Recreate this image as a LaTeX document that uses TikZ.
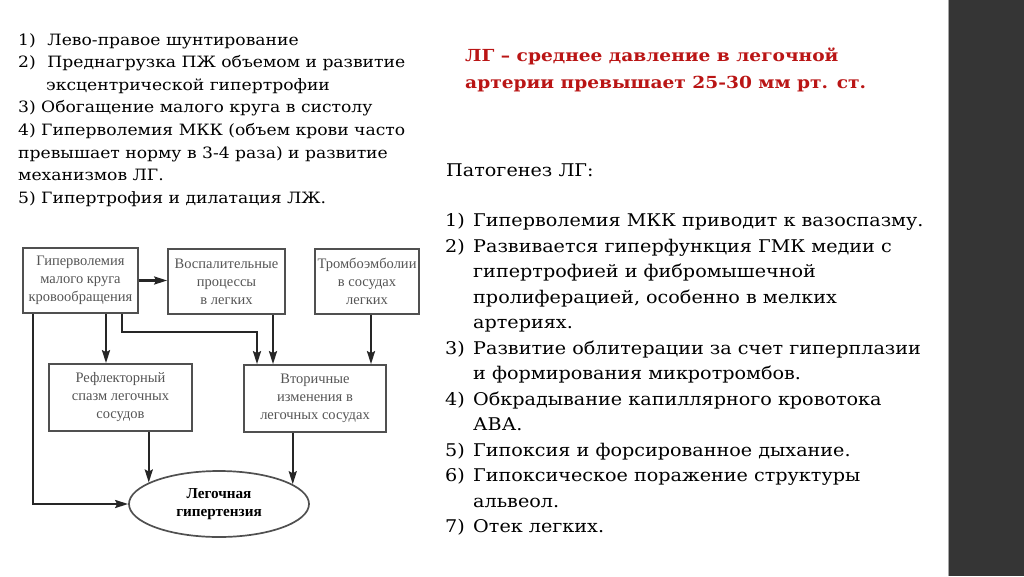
\documentclass[tikz,border=0pt]{standalone}
\usepackage{fontspec}
\setmainfont{DejaVu Serif}
\newfontfamily\leftfont[FakeStretch=1.1]{DejaVu Serif}
\newfontfamily\rightfont[FakeStretch=1.095]{DejaVu Serif}
\newfontfamily\redfont[FakeStretch=1.12]{DejaVu Serif}
\newfontfamily\diagfont{Liberation Serif}
\usetikzlibrary{arrows.meta,shapes.geometric}
\definecolor{band}{HTML}{353535}
\definecolor{redtxt}{HTML}{BA1515}
\definecolor{boxgray}{HTML}{505050}
\definecolor{diagtext}{HTML}{555555}
\begin{document}
\begin{tikzpicture}[x=1pt,y=-1pt,
  lefttxt/.style={anchor=base west,inner sep=0,font=\leftfont\fontsize{15.6}{18}\selectfont},
  righttxt/.style={anchor=base west,inner sep=0,font=\rightfont\fontsize{17.5}{20}\selectfont},
  redhead/.style={anchor=base west,inner sep=0,text=redtxt,font=\redfont\bfseries\fontsize{16.6}{20}\selectfont},
  dbox/.style={draw=boxgray,line width=1.7pt,align=center,inner sep=0,text=diagtext,
     font=\diagfont\fontsize{14.5}{18}\selectfont},
  ell/.style={draw=boxgray,line width=1.7pt,ellipse,inner sep=0,align=center,
     minimum width=180pt,minimum height=66pt,font=\diagfont\bfseries\fontsize{15.2}{18}\selectfont},
  arr/.style={draw=black!85,line width=2.2pt,-{Stealth[length=13pt,width=8pt,inset=2pt]}}]
\useasboundingbox (0,0) rectangle (1024,576);
\fill[white] (0,0) rectangle (1024,576);
\fill[band] (948,0) rectangle (1024,576);
\draw[black!35,line width=0.8pt] (948,0) -- (948,576);

% left text
\node[lefttxt] (l1) at (18,45) {1)\hspace{0.75em}Лево-правое шунтирование};
\node[lefttxt] (l2) at (18,67.6) {2)\hspace{0.75em}Преднагрузка ПЖ объемом и развитие};
\node[lefttxt] (l3) at (46,90.2) {эксцентрической гипертрофии};
\node[lefttxt] (l4) at (18,112.8) {3) Обогащение малого круга в систолу};
\node[lefttxt] (l5) at (18,135.4) {4) Гиперволемия МКК (объем крови часто};
\node[lefttxt] (l6) at (18,158) {превышает норму в 3-4 раза) и развитие};
\node[lefttxt] (l7) at (18,180.6) {механизмов ЛГ.};
\node[lefttxt] (l8) at (18,203.2) {5) Гипертрофия и дилатация ЛЖ.};

% red heading
\node[redhead] (h1) at (465,61.7) {ЛГ – среднее давление в легочной};
\node[redhead] (h2) at (465,88) {артерии превышает 25-30 мм рт. ст.};

% pathogenesis
\node[righttxt] (p0) at (446,176.7) {Патогенез ЛГ:};
\foreach \n/\t [count=\i from 0] in {
  1)/Гиперволемия МКК приводит к вазоспазму.,
  2)/Развивается гиперфункция ГМК медии с,
  /гипертрофией и фибромышечной,
  /{пролиферацией, особенно в мелких},
  /артериях.,
  3)/Развитие облитерации за счет гиперплазии,
  /и формирования микротромбов.,
  4)/Обкрадывание капиллярного кровотока,
  /АВА.,
  5)/Гипоксия и форсированное дыхание.,
  6)/Гипоксическое поражение структуры,
  /альвеол.,
  7)/Отек легких.}{
  \node[righttxt] (n\i) at (445,226.7+25.5*\i) {\n};
  \node[righttxt] (t\i) at (473,226.7+25.5*\i) {\t};
}

% diagram
\node[dbox,minimum width=115pt,minimum height=65pt] (b1) at (80.5,280.5) {Гиперволемия\\малого круга\\кровообращения};
\node[dbox,minimum width=117pt,minimum height=65pt] (b2) at (226.5,281.5) {Воспалительные\\процессы\\в легких};
\node[dbox,minimum width=104pt,minimum height=65pt] (b3) at (367,281.5) {Тромбоэмболии\\в сосудах\\легких};
\node[dbox,minimum width=143pt,minimum height=67pt] (b4) at (120.5,397.5) {Рефлекторный\\спазм легочных\\сосудов};
\node[dbox,minimum width=142pt,minimum height=67pt] (b5) at (315,398.5) {Вторичные\\изменения в\\легочных сосудах};
\node[ell] (e) at (219,504) {Легочная\\гипертензия};

\coordinate (x1) at (106,0);
\coordinate (x2) at (122,0);
\coordinate (k) at (257,332);
\coordinate (x3) at (273,0);
\coordinate (x4) at (371,0);
\coordinate (x5) at (33,0);

\draw[arr] (b1.east) -- (b1.east -| b2.west);
\draw[arr] (b1.south -| x1) -- (b4.north -| x1);
\draw[arr] (b1.south -| x2) |- (k) -- (b5.north -| k);
\draw[arr] (b2.south -| x3) -- (b5.north -| x3);
\draw[arr] (b3.south -| x4) -- (b5.north -| x4);
\draw[arr] (b1.south -| x5) |- (e.west);
\draw[arr] (b4.south -| e.163.5) -- (e.163.5);
\draw[arr] (b5.south -| e.15.4) -- (e.15.4);
\end{tikzpicture}
\end{document}
